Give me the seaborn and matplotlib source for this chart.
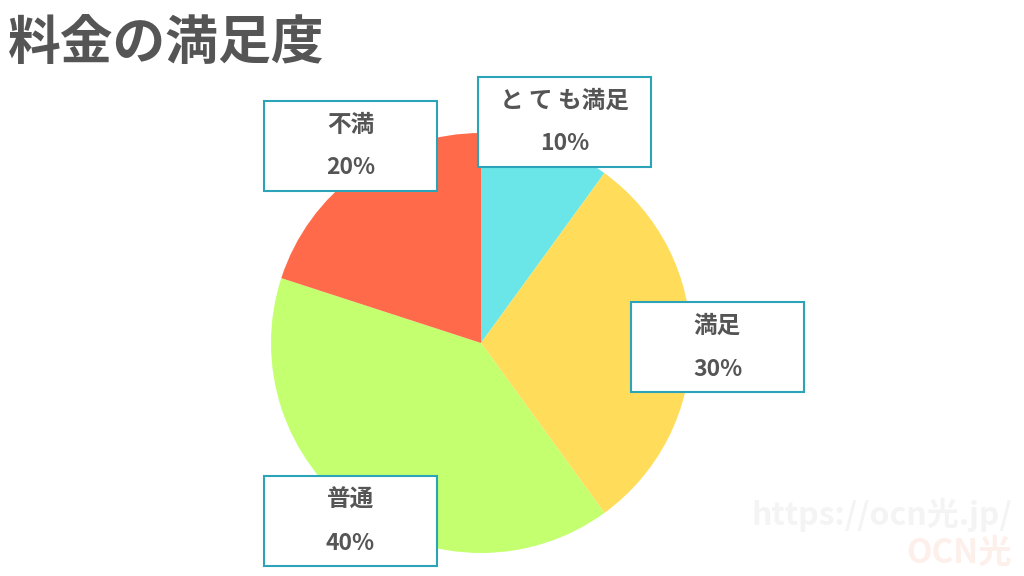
import matplotlib
matplotlib.use('Agg')
import matplotlib.pyplot as plt
import seaborn as sns
from matplotlib.patches import Rectangle

# data
labels = ['と て も満足', '満足', '普通', '不満']
shares = [10, 30, 40, 20]
colors = ['#6ae6e8', '#ffdd5b', '#c3ff6e', '#ff6b4a']

# label boxes (pixel layout: left, top)
box_pos = [(478, 77), (631, 302), (264, 476), (264, 101)]
BOX_W, BOX_H = 173, 90

sns.set_theme(style='white')
plt.rcParams['font.family'] = ['Noto Sans CJK JP', 'DejaVu Sans']

W, H = 1024, 576
fig = plt.figure(figsize=(W / 100, H / 100), dpi=100)
fig.patch.set_facecolor('white')
ax = fig.add_axes([0, 0, 1, 1])

ax.pie(shares, colors=sns.color_palette(colors), startangle=90, counterclock=False,
       center=(481, H - 343), radius=210, wedgeprops=dict(linewidth=0))
ax.set_xlim(0, W)
ax.set_ylim(0, H)
ax.set_aspect('equal')
ax.axis('off')

text_color = '#555555'
for lab, val, (bx, by) in zip(labels, shares, box_pos):
    ax.add_patch(Rectangle((bx, H - by - BOX_H), BOX_W, BOX_H, facecolor='white',
                           edgecolor='#2ba3b8', linewidth=1.5, zorder=3))
    ax.text(bx + BOX_W / 2, H - by - 24, lab, ha='center', va='center',
            fontsize=17, fontweight='bold', color=text_color, zorder=4)
    ax.text(bx + BOX_W / 2, H - by - 67, f'{val}%', ha='center', va='center',
            fontsize=16.5, fontweight='bold', color=text_color, zorder=4)

ax.text(8, H - 44, '料金の満足度', ha='left', va='center', fontsize=38,
        fontweight='bold', color=text_color)

# watermark
ax.text(1012, H - 515, 'https://ocn光.jp/', ha='right', va='center', fontsize=23,
        fontweight='bold', color='#f4f4f4', zorder=5)
ax.text(1012, H - 553, 'OCN光', ha='right', va='center', fontsize=24,
        fontweight='bold', fontstyle='italic', color='#fdefea', zorder=5)

fig.savefig('out.png', dpi=100)
